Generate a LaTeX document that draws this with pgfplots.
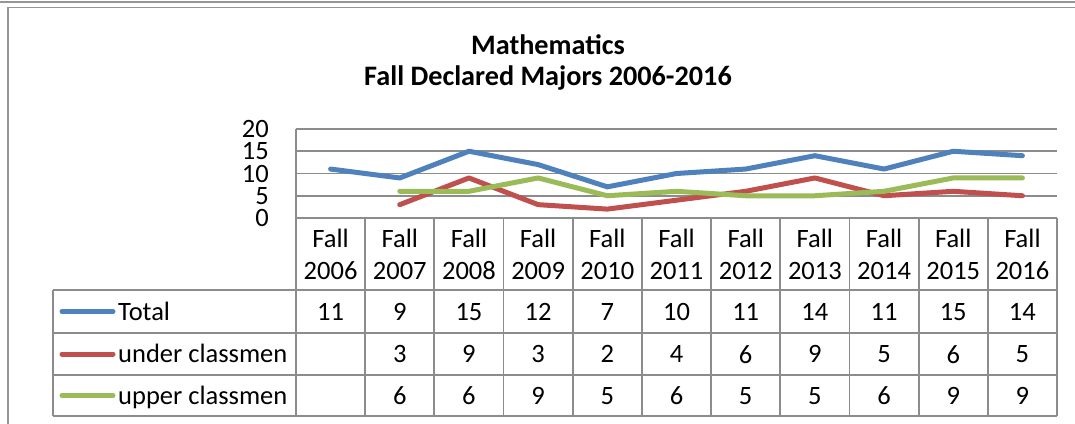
\documentclass[border=0pt]{standalone}
\usepackage{pgfplots}
\pgfplotsset{compat=1.18}
\usepackage{pgfplotstable}
\usepackage{fontspec}
\setmainfont{Carlito}
\definecolor{cTot}{RGB}{79,129,189}
\definecolor{cUnd}{RGB}{192,80,77}
\definecolor{cUpp}{RGB}{155,187,89}
\definecolor{gridc}{RGB}{140,140,140}
\definecolor{framec}{RGB}{150,150,150}
\pgfplotstableread{
x total under upper
0 11 nan nan
1 9 3 6
2 15 9 6
3 12 3 9
4 7 2 5
5 10 4 6
6 11 6 5
7 14 9 5
8 11 5 6
9 15 6 9
10 14 5 9
}\data
\newcommand{\tfont}{\fontsize{26.5}{32}\selectfont}
\begin{document}
\begin{tikzpicture}
\path[use as bounding box] (0,0) rectangle (1075pt,-423pt);
\fill[white] (0,0) rectangle (1075pt,-423pt);
\draw[framec, line width=1.5pt] (0,-2pt) -- (1075pt,-2pt);
\draw[framec, line width=1.5pt] (8pt,-425pt) -- (8pt,-7.5pt) -- (1077pt,-7.5pt);
\node[font=\bfseries\fontsize{28.2}{33}\selectfont] at (548pt,-45pt) {Mathematics};
\node[font=\bfseries\fontsize{28.2}{33}\selectfont] at (548pt,-78pt) {Fall Declared Majors 2006-2016};
\begin{axis}[
  at={(296pt,-218pt)}, anchor=south west,
  scale only axis, width=761pt, height=89pt,
  xmin=-0.5, xmax=10.5, ymin=0, ymax=20,
  ytick={0,5,10,15,20},
  xtick={0,...,10},
  xticklabels={{Fall\\2006},{Fall\\2007},{Fall\\2008},{Fall\\2009},{Fall\\2010},{Fall\\2011},{Fall\\2012},{Fall\\2013},{Fall\\2014},{Fall\\2015},{Fall\\2016}},
  xticklabel style={align=center, anchor=north, inner sep=0pt, font=\tfont, yshift=-11pt},
  yticklabel style={anchor=east, inner sep=0pt, font=\tfont, xshift=-27pt},
  /pgf/number format/assume math mode=true,
  axis line style={draw=none},
  major tick length=0pt,
  ymajorgrids, grid style={gridc, line width=1.6pt},
  clip=false,
]
\addplot[cTot, line width=5pt, line cap=round, line join=round] table[x=x, y=total] {\data};
\addplot[cUnd, line width=5pt, line cap=round, line join=round] table[x=x, y=under] {\data};
\addplot[cUpp, line width=5pt, line cap=round, line join=round] table[x=x, y=upper] {\data};
% data table values
\addplot[draw=none, mark=none, point meta=explicit symbolic, nodes near coords, nodes near coords align={center},
  every node near coord/.append style={font=\tfont, inner sep=0pt, text=black}]
  table[x=x, y expr=\thisrow{total}*0-21.1, meta=total] {\data};
\addplot[draw=none, mark=none, point meta=explicit symbolic, nodes near coords, nodes near coords align={center},
  every node near coord/.append style={font=\tfont, inner sep=0pt, text=black}]
  table[x=x, y expr=\thisrow{under}*0-30.65, meta=under] {\data};
\addplot[draw=none, mark=none, point meta=explicit symbolic, nodes near coords, nodes near coords align={center},
  every node near coord/.append style={font=\tfont, inner sep=0pt, text=black}]
  table[x=x, y expr=\thisrow{upper}*0-39.98, meta=upper] {\data};
\end{axis}
% table grid
\begin{scope}[gridc, line width=1.8pt]
\draw (296pt,-129pt) -- (296pt,-416pt);
\foreach \k in {1,...,11} \draw (296pt+\k*69.1818pt,-218pt) -- (296pt+\k*69.1818pt,-416pt);
\draw (296pt,-218pt) -- (1057pt,-218pt);
\foreach \yy in {290,333,375,416} \draw (53pt,-\yy pt) -- (1057pt,-\yy pt);
\draw (53pt,-290pt) -- (53pt,-416pt);
\end{scope}
% legend keys
\draw[cTot, line width=5pt, line cap=round] (62pt,-311.5pt) -- (113pt,-311.5pt);
\draw[cUnd, line width=5pt, line cap=round] (62pt,-354pt) -- (113pt,-354pt);
\draw[cUpp, line width=5pt, line cap=round] (62pt,-395.5pt) -- (113pt,-395.5pt);
\node[font=\tfont, anchor=base west, inner sep=0pt] at (118pt,-320pt) {Total};
\node[font=\tfont, anchor=base west, inner sep=0pt] at (118pt,-362.5pt) {under classmen};
\node[font=\tfont, anchor=base west, inner sep=0pt] at (118pt,-404pt) {upper classmen};
\end{tikzpicture}
\end{document}
